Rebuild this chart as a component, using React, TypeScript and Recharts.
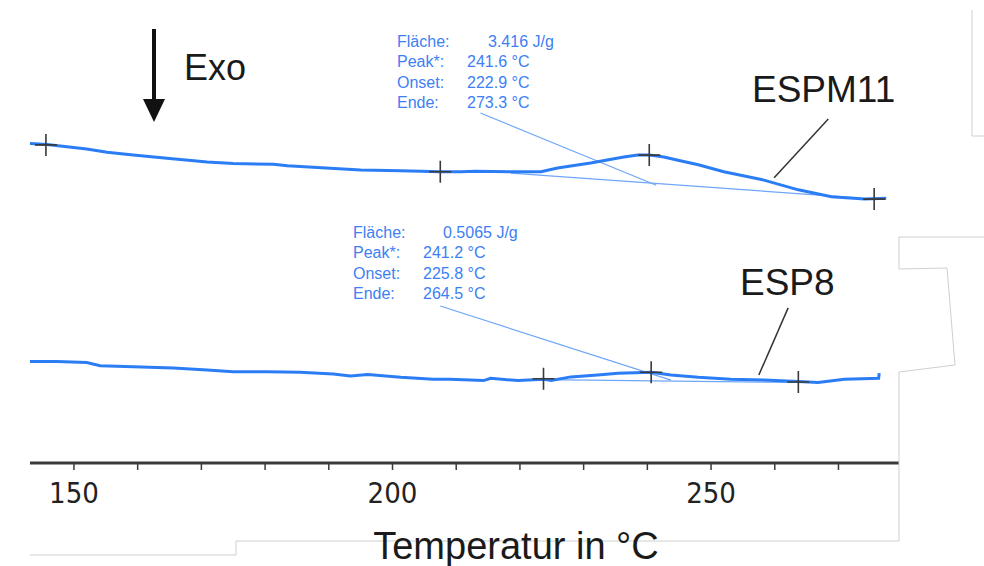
import React from "react";
import {
  ComposedChart,
  Line,
  Scatter,
  XAxis,
  YAxis,
  ReferenceLine,
} from "recharts";

// temperatures (°C) and heat flow (arbitrary mW offset)
const espm11Temp = [
  143.1, 145.8, 148.9, 152.0, 155.2, 159.3, 164.6, 170.9, 175.0, 181.3, 183.5,
  188.2, 195.0, 201.3, 207.5, 210.7, 213.1, 218.6, 223.3, 225.9, 231.1, 236.3,
  238.5, 240.3, 242.6, 244.8, 248.0, 252.0, 258.3, 263.7, 268.9, 274.1, 277.5,
];
const espm11Flow = [
  6.9, 6.88, 6.83, 6.78, 6.71, 6.65, 6.58, 6.5, 6.47, 6.45, 6.42, 6.38, 6.33,
  6.31, 6.29, 6.29, 6.3, 6.29, 6.29, 6.37, 6.48, 6.61, 6.65, 6.65, 6.61, 6.54,
  6.44, 6.29, 6.11, 5.9, 5.75, 5.7, 5.72,
];

const esp8Temp = [
  143.1, 147.3, 152.0, 154.1, 159.3, 165.6, 170.9, 175.0, 180.3, 185.5, 190.7,
  193.4, 196.1, 201.3, 206.4, 209.0, 214.3, 215.4, 219.7, 223.8, 224.9, 228.0,
  232.2, 235.4, 240.6, 243.7, 248.0, 253.1, 258.3, 263.7, 266.8, 270.9, 276.3,
  276.4,
];
const esp8Flow = [
  2.19, 2.19, 2.17, 2.1, 2.08, 2.05, 2.01, 1.97, 1.97, 1.96, 1.92, 1.88, 1.91,
  1.85, 1.81, 1.81, 1.78, 1.83, 1.78, 1.81, 1.78, 1.86, 1.9, 1.94, 1.96, 1.9,
  1.85, 1.81, 1.79, 1.76, 1.74, 1.81, 1.83, 1.94,
];

// evaluation markers (+)
const espm11MarkTemp = [145.6, 207.5, 240.3, 275.6];
const espm11MarkFlow = [6.87, 6.29, 6.65, 5.7];
const esp8MarkTemp = [223.7, 240.6, 263.7];
const esp8MarkFlow = [1.82, 1.96, 1.75];

const xTicks = [150, 160, 170, 180, 190, 200, 210, 220, 230, 240, 250, 260, 270];

const espm11Info = [
  ["Fläche:", "3.416 J/g"],
  ["Peak*:", "241.6 °C"],
  ["Onset:", "222.9 °C"],
  ["Ende:", "273.3 °C"],
];
const esp8Info = [
  ["Fläche:", "0.5065 J/g"],
  ["Peak*:", "241.2 °C"],
  ["Onset:", "225.8 °C"],
  ["Ende:", "264.5 °C"],
];

const zip = (t: number[], f: number[]) => t.map((temp, i) => ({ temp, flow: f[i] }));
const espm11Data = zip(espm11Temp, espm11Flow);
const esp8Data = zip(esp8Temp, esp8Flow);
const espm11Marks = zip(espm11MarkTemp, espm11MarkFlow);
const esp8Marks = zip(esp8MarkTemp, esp8MarkFlow);

const BLUE = "#2b7df6";
const THIN = "#6fa6f7";
const TXT_BLUE = "#3d80f4";

const Cross = (props: any) => {
  const { cx, cy } = props;
  return (
    <path
      d={`M${cx - 11},${cy}H${cx + 11}M${cx},${cy - 11}V${cy + 11}`}
      stroke="#3a3a3a"
      strokeWidth={1.6}
      fill="none"
    />
  );
};

function InfoBlock({ rows, left, top, valueX }: { rows: string[][]; left: number; top: number; valueX: number[] }) {
  return (
    <>
      {rows.map((r, i) => (
        <React.Fragment key={i}>
          <div style={{ position: "absolute", left, top: top + i * 20.3, fontSize: 16, color: TXT_BLUE, lineHeight: "18px" }}>
            {r[0]}
          </div>
          <div style={{ position: "absolute", left: valueX[i], top: top + i * 20.3, fontSize: 16, color: TXT_BLUE, lineHeight: "18px", whiteSpace: "nowrap" }}>
            {r[1]}
          </div>
        </React.Fragment>
      ))}
    </>
  );
}

export default function App() {
  return (
    <div
      style={{
        position: "absolute",
        left: 0,
        top: 0,
        width: 984,
        height: 566,
        background: "#fff",
        fontFamily: "'Liberation Sans', Arial, sans-serif",
        overflow: "hidden",
      }}
    >
      <ComposedChart
        width={984}
        height={566}
        margin={{ top: 0, right: 85, bottom: 0, left: 30 }}
      >
        <XAxis
          dataKey="temp"
          type="number"
          domain={[143.1, 279.5]}
          ticks={xTicks}
          allowDataOverflow
          height={103}
          axisLine={{ stroke: "#3a3a3a", strokeWidth: 3 }}
          tickLine={{ stroke: "#3a3a3a", strokeWidth: 1.5 }}
          tickSize={7}
          tickMargin={12}
          tick={{ fill: "#222", fontSize: 29, fontFamily: "'Liberation Sans Narrow', 'DejaVu Sans Condensed', Arial, sans-serif" }}
          tickFormatter={(v) => (v % 50 === 0 ? String(v) : "")}
        />
        <YAxis dataKey="flow" type="number" domain={[0, 10]} hide />

        {/* evaluation baselines and leaders */}
        <ReferenceLine segment={[{ x: 218.6, y: 6.26 }, { x: 273.6, y: 5.72 }]} stroke={THIN} strokeWidth={1.2} ifOverflow="visible" />
        <ReferenceLine segment={[{ x: 213.8, y: 7.56 }, { x: 241.4, y: 6.0 }]} stroke={THIN} strokeWidth={1.2} ifOverflow="visible" />
        <ReferenceLine segment={[{ x: 223.7, y: 1.8 }, { x: 263.7, y: 1.74 }]} stroke={THIN} strokeWidth={1.2} ifOverflow="visible" />
        <ReferenceLine segment={[{ x: 207.5, y: 3.39 }, { x: 243.7, y: 1.79 }]} stroke={THIN} strokeWidth={1.2} ifOverflow="visible" />

        {/* sample name leaders */}
        <ReferenceLine segment={[{ x: 268.4, y: 7.43 }, { x: 259.9, y: 6.16 }]} stroke="#333" strokeWidth={1.5} ifOverflow="visible" />
        <ReferenceLine segment={[{ x: 262.1, y: 3.35 }, { x: 257.5, y: 1.9 }]} stroke="#333" strokeWidth={1.5} ifOverflow="visible" />

        <Line data={espm11Data} dataKey="flow" type="linear" stroke={BLUE} strokeWidth={3} dot={false} isAnimationActive={false} />
        <Line data={esp8Data} dataKey="flow" type="linear" stroke={BLUE} strokeWidth={3} dot={false} isAnimationActive={false} />
        <Scatter data={espm11Marks} dataKey="flow" shape={Cross} isAnimationActive={false} />
        <Scatter data={esp8Marks} dataKey="flow" shape={Cross} isAnimationActive={false} />
      </ComposedChart>

      {/* Exo arrow */}
      <svg style={{ position: "absolute", left: 0, top: 0 }} width={984} height={566}>
        <line x1={154} y1={29} x2={154} y2={102} stroke="#111" strokeWidth={4} />
        <polygon points="143,99 165,99 154,122" fill="#111" />
        {/* frame remnants */}
        <g stroke="#cfcfcf" strokeWidth={1} fill="none">
          <polyline points="972,10 972,136 984,136" />
          <polyline points="984,237 899,237 899,269 947,268 955,365 899,372 899,541 236,541 236,555 30,555" />
        </g>
      </svg>

      <div style={{ position: "absolute", left: 184, top: 46, fontSize: 36, color: "#1a1a1a", lineHeight: "44px" }}>Exo</div>
      <div style={{ position: "absolute", left: 752, top: 68, fontSize: 37, color: "#1a1a1a", lineHeight: "44px" }}>ESPM11</div>
      <div style={{ position: "absolute", left: 740, top: 261, fontSize: 37, color: "#1a1a1a", lineHeight: "44px" }}>ESP8</div>

      <InfoBlock rows={espm11Info} left={397} top={33} valueX={[488, 467, 467, 467]} />
      <InfoBlock rows={esp8Info} left={353} top={224} valueX={[443, 423, 423, 423]} />

      <div
        style={{
          position: "absolute",
          left: 0,
          width: 1032,
          top: 524,
          textAlign: "center",
          fontSize: 38,
          color: "#1a1a1a",
          lineHeight: "44px",
        }}
      >
        Temperatur in °C
      </div>
    </div>
  );
}
